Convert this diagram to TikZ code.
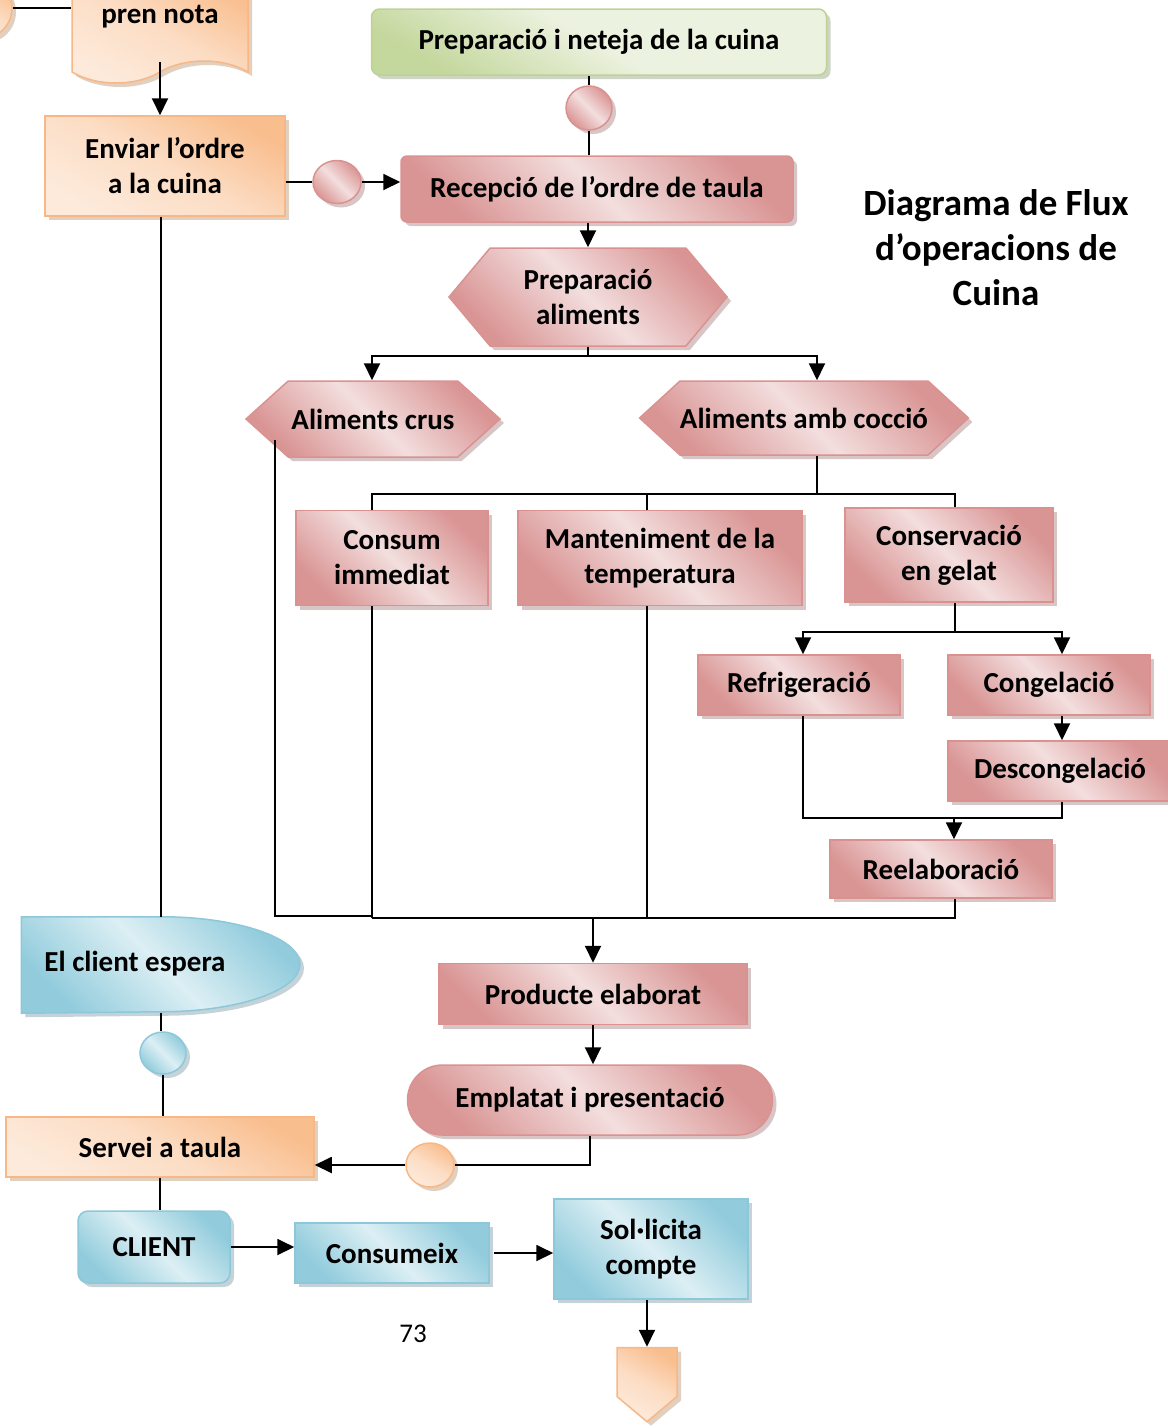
\documentclass[tikz,border=0pt]{standalone}
\usepackage{fontspec}
\setmainfont{Carlito}
\usetikzlibrary{positioning,shapes.geometric,shapes.misc,shapes.symbols,shadows,arrows.meta}

\definecolor{orangedark}{RGB}{249,190,142}
\definecolor{orangelight}{RGB}{253,234,219}
\definecolor{orangeline}{RGB}{247,183,135}
\definecolor{orangeshadow}{RGB}{196,160,128}
\definecolor{pinkdark}{RGB}{217,149,148}
\definecolor{pinklight}{RGB}{243,222,222}
\definecolor{pinkline}{RGB}{218,146,145}
\definecolor{pinkshadow}{RGB}{178,140,140}
\definecolor{greendark}{RGB}{196,215,156}
\definecolor{greenlight}{RGB}{236,242,224}
\definecolor{greenline}{RGB}{190,210,150}
\definecolor{greenshadow}{RGB}{160,172,140}
\definecolor{bluedark}{RGB}{146,204,220}
\definecolor{bluelight}{RGB}{220,239,244}
\definecolor{blueline}{RGB}{140,200,218}
\definecolor{blueshadow}{RGB}{140,165,175}

\pgfdeclarelayer{background}
\pgfsetlayers{background,main}

\begin{document}
\begin{tikzpicture}[x=1pt, y=-1pt, node distance=1cm, auto,
        >={Triangle[length=17pt, width=16pt]},
        font=\fontsize{29}{35}\selectfont\bfseries]
        \tikzstyle{link}=[line width=1.9pt]
        \tikzstyle{box}=[line width=1.5pt, inner sep=0pt, align=center]
        \tikzstyle{pinkbox}=[box, draw=pinkline, top color=pinkdark, bottom color=pinkdark, middle color=pinklight, shading angle=-45, drop shadow={shadow xshift=4pt, shadow yshift=-4pt, fill=pinkshadow}]
        \tikzstyle{orangebox}=[box, draw=orangeline, top color=orangedark, bottom color=orangelight, middle color=orangelight!70!orangedark, shading angle=-30, drop shadow={shadow xshift=4pt, shadow yshift=-4pt, fill=orangeshadow}]
        \tikzstyle{greenbox}=[box, draw=greenline, top color=greenlight, bottom color=greendark, middle color=greenlight, shading angle=-30, drop shadow={shadow xshift=4pt, shadow yshift=-4pt, fill=greenshadow}]
        \tikzstyle{bluebox}=[box, draw=blueline, top color=bluedark, bottom color=bluedark, middle color=bluelight, shading angle=-45, drop shadow={shadow xshift=4pt, shadow yshift=-4pt, fill=blueshadow}]
        \tikzstyle{hexa}=[signal, signal to=east and west]
        \tikzstyle{dot}=[ellipse, minimum width=48, minimum height=43]

        \useasboundingbox (0,0) rectangle (1168,1428);
        \clip (0,0) rectangle (1168,1428);

        % waiter column
        \node[orangebox, dot, minimum width=62, minimum height=62] (circnota) at (-19,8) {};
        \node[orangebox, tape, tape bend top=none, tape bend bottom=in and out, tape bend height=22pt, minimum width=176, minimum height=110] (nota) at (160,17) {pren nota};
        \node[orangebox, minimum width=240, minimum height=100] (enviar) at (165,166) {Enviar l’ordre\\a la cuina};
        \node[pinkbox, dot] (circA) at (337,182) {};

        % kitchen
        \node[greenbox, rounded corners=8pt, minimum width=455, minimum height=66] (neteja) at (599,42) {Preparació i neteja de la cuina};
        \node[pinkbox, dot, minimum width=46, minimum height=44] (circB) at (589,108) {};
        \node[pinkbox, rounded corners=6pt, minimum width=392, minimum height=66] (recep) at (597,189) {Recepció de l’ordre de taula};
        \node[pinkbox, hexa, signal pointer angle=100, minimum width=278, minimum height=98] (prepal) at (588,297) {Preparació\\aliments};
        \node[pinkbox, hexa, signal pointer angle=84, minimum width=254, minimum height=76] (crus) at (373,419) {Aliments crus};
        \node[pinkbox, hexa, signal pointer angle=85, minimum width=323, minimum height=74] (coccio) at (804,418) {Aliments amb cocció};
        \node[pinkbox, minimum width=192, minimum height=95] (consum) at (392,558) {Consum\\immediat};
        \node[pinkbox, minimum width=284, minimum height=95] (mant) at (660,558) {Manteniment de la\\temperatura};
        \node[pinkbox, minimum width=208, minimum height=94] (conserv) at (949,555) {Conservació\\en gelat};
        \node[pinkbox, minimum width=202, minimum height=60] (refrig) at (799,685) {Refrigeració};
        \node[pinkbox, minimum width=202, minimum height=60] (cong) at (1049,685) {Congelació};
        \node[pinkbox, minimum width=224, minimum height=60] (descong) at (1060,771) {Descongelació};
        \node[pinkbox, minimum width=222, minimum height=58] (reelab) at (941,869) {Reelaboració};
        \node[pinkbox, minimum width=308, minimum height=61] (producte) at (593,994) {Producte elaborat};
        \node[pinkbox, rounded rectangle, minimum width=365, minimum height=70] (emplatat) at (590,1100) {Emplatat i presentació};
        \node[orangebox, dot, minimum width=48, minimum height=44] (circC) at (430,1165) {};

        % client column
        \node[box, minimum width=278, minimum height=95] (espera) at (161,965) {\raisebox{7pt}{El client espera}\hspace*{52pt}};
        \begin{pgfonlayer}{background}
            \path[bluebox] (espera.north west) -- (espera.north) arc[start angle=-90, end angle=90, x radius=139, y radius=47.5] -- (espera.south west) -- cycle;
        \end{pgfonlayer}
        \node[bluebox, dot, minimum width=46, minimum height=42] (circD) at (163,1053) {};
        \node[orangebox, minimum width=308, minimum height=60] (servei) at (160,1147) {Servei a taula};
        \node[bluebox, rounded corners=10pt, minimum width=152, minimum height=72] (client) at (154,1247) {CLIENT};
        \node[bluebox, minimum width=194, minimum height=60] (consumeix) at (392,1253) {Consumeix};
        \node[bluebox, minimum width=194, minimum height=100] (solicita) at (651,1249) {Sol·licita\\compte};
        \node[orangebox, signal, signal to=south, signal pointer angle=100, minimum width=60, minimum height=49] (offpage) at (647,1372) {};

        \node[align=center, font=\fontsize{37}{45}\selectfont\bfseries] (titol) at (996,248) {Diagrama de Flux\\d’operacions de\\Cuina};
        \node[font=\fontsize{27}{30}\selectfont] (pagina) at (413,1334) {73};

        % connectors
        \draw[link] (circnota.east) -- (circnota.east -| nota.west);
        \draw[->, link] (nota.south) -- (nota.south |- enviar.north);
        \draw[link] (enviar.east |- circA) -- (circA.west);
        \draw[->, link] (circA.east) -- (circA.east -| recep.west);
        \draw[link] (neteja.south -| circB) -- (circB.north);
        \draw[link] (circB.south) -- (circB.south |- recep.north);
        \draw[->, link] (recep.south -| prepal) -- (prepal.north);

        \coordinate (split1) at (588,356);
        \draw[->, link] (prepal.south) -- (split1) -| ([xshift=-1pt]crus.north);
        \draw[->, link] (split1) -| ([xshift=13pt]coccio.north);

        \coordinate (busT) at (817,494);
        \draw[link] ([xshift=13pt]coccio.south) -- (busT);
        \draw[link] ([xshift=-20pt]consum.north) |- ([xshift=6pt]conserv.north |- busT) -- ([xshift=6pt]conserv.north);
        \draw[link] ([xshift=-13pt]mant.north) -- ([xshift=-13pt]mant.north |- busT);

        \coordinate (split2) at (955,632);
        \draw[->, link] ([xshift=6pt]conserv.south) -- (split2) -| ([xshift=4pt]refrig.north);
        \draw[->, link] (split2) -| ([xshift=13pt]cong.north);
        \draw[->, link] ([xshift=13pt]cong.south) -- ([xshift=13pt]cong.south |- descong.north);

        \coordinate (split3) at (954,818);
        \draw[link] ([xshift=4pt]refrig.south) |- ([xshift=13pt]cong.south |- split3) -- ([xshift=13pt]cong.south |- descong.south);
        \draw[->, link] (split3) -- (split3 |- reelab.north);

        \coordinate (busL) at (372,916);
        \coordinate (busR) at (955,918);
        \draw[link] ([xshift=-98pt, yshift=-21pt]crus.center) |- (busL);
        \draw[link] (reelab.south -| busR) -- (busR) -- (busL |- busR);
        \draw[link] ([xshift=-20pt]consum.south) -- ([xshift=-20pt]consum.south |- busR);
        \draw[link] ([xshift=-13pt]mant.south) -- ([xshift=-13pt]mant.south |- busR);
        \draw[->, link] (producte.north |- busR) -- (producte.north);
        \draw[->, link] (producte.south) -- (producte.south |- emplatat.north);
        \draw[link] (emplatat.south) |- (circC.east);
        \draw[->, link] (circC.west) -- (circC.west -| servei.east);

        \draw[link] (espera.north |- enviar.south) -- (espera.north);
        \draw[link] (espera.south) -- (espera.south |- circD.north);
        \draw[link] (circD.south) -- (circD.south |- servei.north);
        \draw[link] (servei.south) -- (servei.south |- client.north);
        \draw[->, link] (client.east) -- (client.east -| consumeix.west);
        \draw[->, link] ([xshift=4pt]consumeix.east) -- (consumeix.east -| solicita.west);
        \draw[->, link] (offpage.north |- solicita.south) -- (offpage.north);
\end{tikzpicture}
\end{document}
